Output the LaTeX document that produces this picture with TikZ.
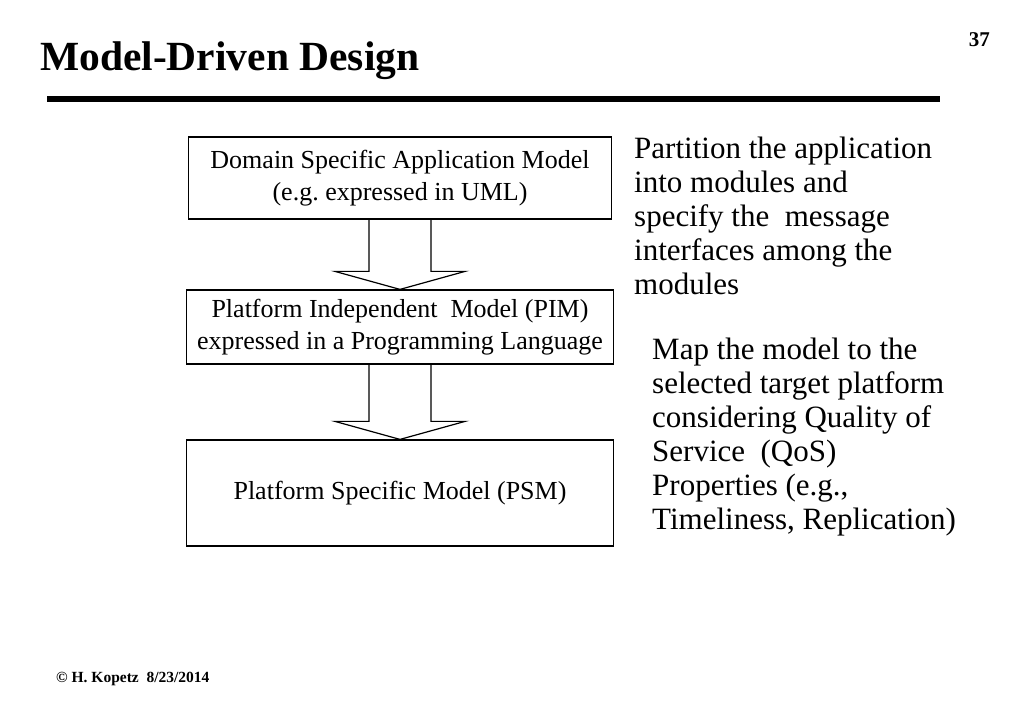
\documentclass[tikz,border=0pt]{standalone}
\usepackage{fontspec}
\setmainfont{Liberation Serif}
\usetikzlibrary{calc}
\frenchspacing

% block arrow from the bottom of one box to the top of the next
\newcommand{\blockarrow}[2]{%
  \draw[arrowline] ($(#1.south)+(-31,0)$) -- ($(#2.north)+(-31,-18)$)
    -- ($(#2.north)+(-65,-18)$) -- (#2.north) -- ($(#2.north)+(65,-18)$)
    -- ($(#2.north)+(31,-18)$) -- ($(#1.south)+(31,0)$);}

\begin{document}
\begin{tikzpicture}[x=1pt, y=-1pt,
    modelbox/.style={draw, line width=1.2pt, align=center, inner sep=0pt,
      font=\fontsize{26}{31.5}\selectfont},
    arrowline/.style={line width=1.2pt, line join=miter},
    notes/.style={anchor=north west, align=left, inner sep=0pt,
      font=\fontsize{31}{34}\selectfont}]
        \useasboundingbox (0,0) rectangle (1023,708);

        % Title
        \node[anchor=base west, inner sep=0pt, font=\fontsize{41.5}{48}\selectfont\bfseries] (title) at (40,71) {Model-Driven Design};
        \node[anchor=base east, inner sep=0pt, font=\fontsize{21}{24}\selectfont\bfseries] (page) at (990,47) {37};
        \draw[line width=6pt] (47,99) -- (940,99);

        % Models
        \node[modelbox, minimum width=423pt, minimum height=82pt] (dsam) at (400,178) {Domain Specific Application Model\\(e.g. expressed in UML)};
        \node[modelbox, minimum width=427pt, minimum height=74pt] (pim) at (400,327) {Platform Independent~ Model (PIM)\\expressed in a Programming Language};
        \node[modelbox, minimum width=427pt, minimum height=106pt] (psm) at (400,493) {Platform Specific Model (PSM)};

        % Transformations
        \blockarrow{dsam}{pim}
        \blockarrow{pim}{psm}

        % Notes
        \node[notes] (partition) at (634,137) {Partition the application\\into modules and\\specify the~ message\\interfaces among the\\modules};
        \node[notes] (mapping) at (652,338) {Map the model to the\\selected target platform\\considering Quality of\\Service~ (QoS)\\Properties (e.g.,\\Timeliness, Replication)};

        % Footer
        \node[anchor=base west, inner sep=0pt, font=\fontsize{15.5}{18}\selectfont\bfseries] (footer) at (56,682) {© H. Kopetz~ 8/23/2014};
    \end{tikzpicture}
\end{document}
